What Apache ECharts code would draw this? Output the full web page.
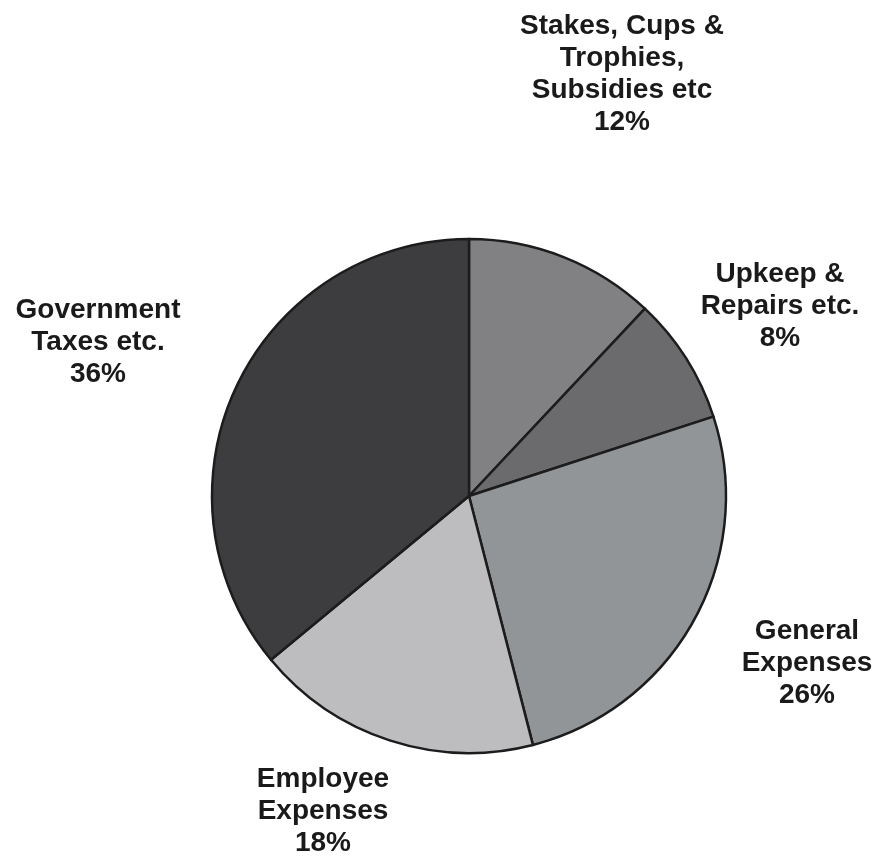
<!DOCTYPE html>
<html>
<head>
<meta charset="utf-8">
<script src="https://cdn.jsdelivr.net/npm/echarts@6/dist/echarts.min.js"></script>
<style>
html,body{margin:0;padding:0;background:#fff;}
#chart{width:880px;height:859px;}
</style>
</head>
<body>
<div id="chart"></div>
<script>
// Data
const categories = [
  "Stakes, Cups &\nTrophies,\nSubsidies etc",
  "Upkeep &\nRepairs etc.",
  "General\nExpenses",
  "Employee\nExpenses",
  "Government\nTaxes etc."
];
const values = [12, 8, 26, 18, 36];

// Styles / layout (not data)
const colors = ["#818184", "#6b6b6e", "#929598", "#bdbdc0", "#3d3d3f"];
const labelPos = [[622, 74], [780, 306], [807, 663], [323, 811], [98, 342]];

const chart = echarts.init(document.getElementById('chart'), null, {renderer: 'canvas'});
chart.setOption({
  backgroundColor: '#ffffff',
  animation: false,
  series: [{
    type: 'pie',
    center: [469, 496],
    radius: 257,
    startAngle: 90,
    clockwise: true,
    avoidLabelOverlap: false,
    data: categories.map((c, i) => ({
      name: c,
      value: values[i],
      itemStyle: {color: colors[i]}
    })),
    itemStyle: {borderColor: '#1c1c1c', borderWidth: 2.5},
    emphasis: {disabled: true},
    label: {
      show: true,
      position: 'outside',
      formatter: p => p.name + '\n' + p.value + '%',
      fontFamily: 'Liberation Sans, Arial, sans-serif',
      fontWeight: 'bold',
      fontSize: 28,
      lineHeight: 32,
      color: '#1a1a1a',
      align: 'center'
    },
    labelLine: {show: false},
    labelLayout: function (params) {
      const pos = labelPos[params.dataIndex];
      return {x: pos[0], y: pos[1], align: 'center', verticalAlign: 'middle'};
    }
  }]
});
</script>
</body>
</html>
